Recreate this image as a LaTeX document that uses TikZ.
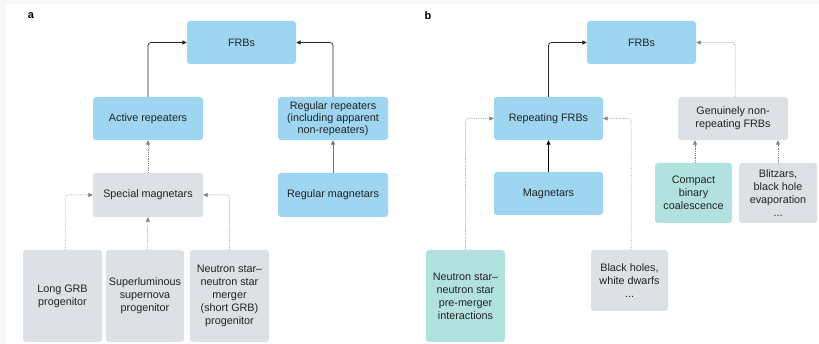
\documentclass[tikz,border=0pt]{standalone}
\usepackage{fontspec}
\setmainfont{Liberation Sans}
\usetikzlibrary{arrows.meta}
\definecolor{boxblue}{RGB}{158,213,240}
\definecolor{boxgray}{RGB}{221,224,228}
\definecolor{boxteal}{RGB}{177,226,224}
\definecolor{txt}{RGB}{34,34,34}
\definecolor{page}{RGB}{247,247,247}
\definecolor{dotline}{RGB}{130,130,130}
\tikzset{
  box/.style={rounded corners=3pt, align=center, text=txt,
    font=\fontsize{10.8}{13}\selectfont, inner sep=2pt},
  bluebox/.style={box, fill=boxblue},
  graybox/.style={box, fill=boxgray},
  tealbox/.style={box, fill=boxteal},
  tip/.style={-{Triangle[length=4.5pt,width=4pt]}},
  solidarrow/.style={tip, draw=black!85, line width=0.7pt, rounded corners=3pt},
  grayarrow/.style={tip, draw=black!55, line width=0.7pt},
  dotarrow/.style={tip, draw=dotline, line width=0.5pt, dash pattern=on 0.8pt off 1pt, rounded corners=3pt},
  panel/.style={font=\fontsize{11}{13}\selectfont\bfseries, text=black}
}
\begin{document}
\begin{tikzpicture}[x=1pt,y=-1pt]
% canvas
\fill[page] (0,0) rectangle (819,344);
\fill[white] (4.5,4.5) rectangle (819,344);
\useasboundingbox (0,0) rectangle (819,344);

% ---- panel a ----
\node[panel] (la) at (31,16) {a};
\node[bluebox, minimum width=109pt, minimum height=43pt] (frba) at (241.5,42.5) {FRBs};
\node[bluebox, minimum width=110pt, minimum height=43pt] (actrep) at (148,118.5) {Active repeaters};
\node[bluebox, minimum width=110pt, minimum height=43pt, font=\fontsize{10.8}{12}\selectfont] (regrep) at (333,118.5) {Regular repeaters\\(including apparent\\non-repeaters)};
\node[graybox, minimum width=110pt, minimum height=44pt] (specmag) at (148,195) {Special magnetars};
\node[bluebox, minimum width=110pt, minimum height=44pt] (regmag) at (333,195) {Regular magnetars};
\node[graybox, minimum width=79pt, minimum height=92pt] (longgrb) at (62.5,296) {Long GRB\\progenitor};
\node[graybox, minimum width=78pt, minimum height=92pt] (superlum) at (145,296) {Superluminous\\supernova\\progenitor};
\node[graybox, minimum width=79pt, minimum height=92pt] (nsmerge) at (229.5,296) {Neutron star–\\neutron star\\merger\\(short GRB)\\progenitor};

\draw[solidarrow] (actrep.north) |- (frba.west);
\draw[solidarrow] (regrep.north) |- (frba.east);
\draw[dotarrow] (specmag.north) -- (actrep.south);
\draw[grayarrow] (regmag.north) -- (regrep.south);
\draw[dotarrow] ([xshift=2.5pt]longgrb.north) |- (specmag.west);
\draw[dotarrow] ([xshift=2pt]superlum.north) -- (specmag.south);
\draw[dotarrow] (nsmerge.north) |- (specmag.east);

% ---- panel b ----
\node[panel] (lb) at (428,16) {b};
\node[bluebox, minimum width=109pt, minimum height=43pt] (frbb) at (641.5,42.5) {FRBs};
\node[bluebox, minimum width=109pt, minimum height=43pt] (repfrb) at (548.5,118.5) {Repeating FRBs};
\node[graybox, minimum width=110pt, minimum height=43pt] (genuine) at (733,118.5) {Genuinely non-\\repeating FRBs};
\node[bluebox, minimum width=109pt, minimum height=43pt] (magn) at (548.5,193.5) {Magnetars};
\node[tealbox, minimum width=77pt, minimum height=60pt] (compact) at (693.5,193) {Compact\\binary\\coalescence};
\node[graybox, minimum width=78pt, minimum height=60pt] (blitz) at (778,193) {Blitzars,\\black hole\\evaporation\\...};
\node[tealbox, minimum width=79pt, minimum height=92pt] (nspre) at (465.5,296) {Neutron star–\\neutron star\\pre-merger\\interactions};
\node[graybox, minimum width=77pt, minimum height=61pt] (bhwd) at (629.5,280.5) {Black holes,\\white dwarfs\\...};

\draw[solidarrow] (repfrb.north) |- (frbb.west);
\draw[dotarrow] ([xshift=2pt]genuine.north) |- (frbb.east);
\draw[tip, draw=black, line width=1pt] (magn.north) -- (repfrb.south);
\draw[dotarrow] ([xshift=1.5pt]compact.north) -- ([xshift=1.5pt]compact.north |- genuine.south);
\draw[dotarrow] (blitz.north) -- (blitz.north |- genuine.south);
\draw[dotarrow] (nspre.north) |- (repfrb.west);
\draw[dotarrow] ([xshift=1.5pt]bhwd.north) |- (repfrb.east);
\end{tikzpicture}
\end{document}
